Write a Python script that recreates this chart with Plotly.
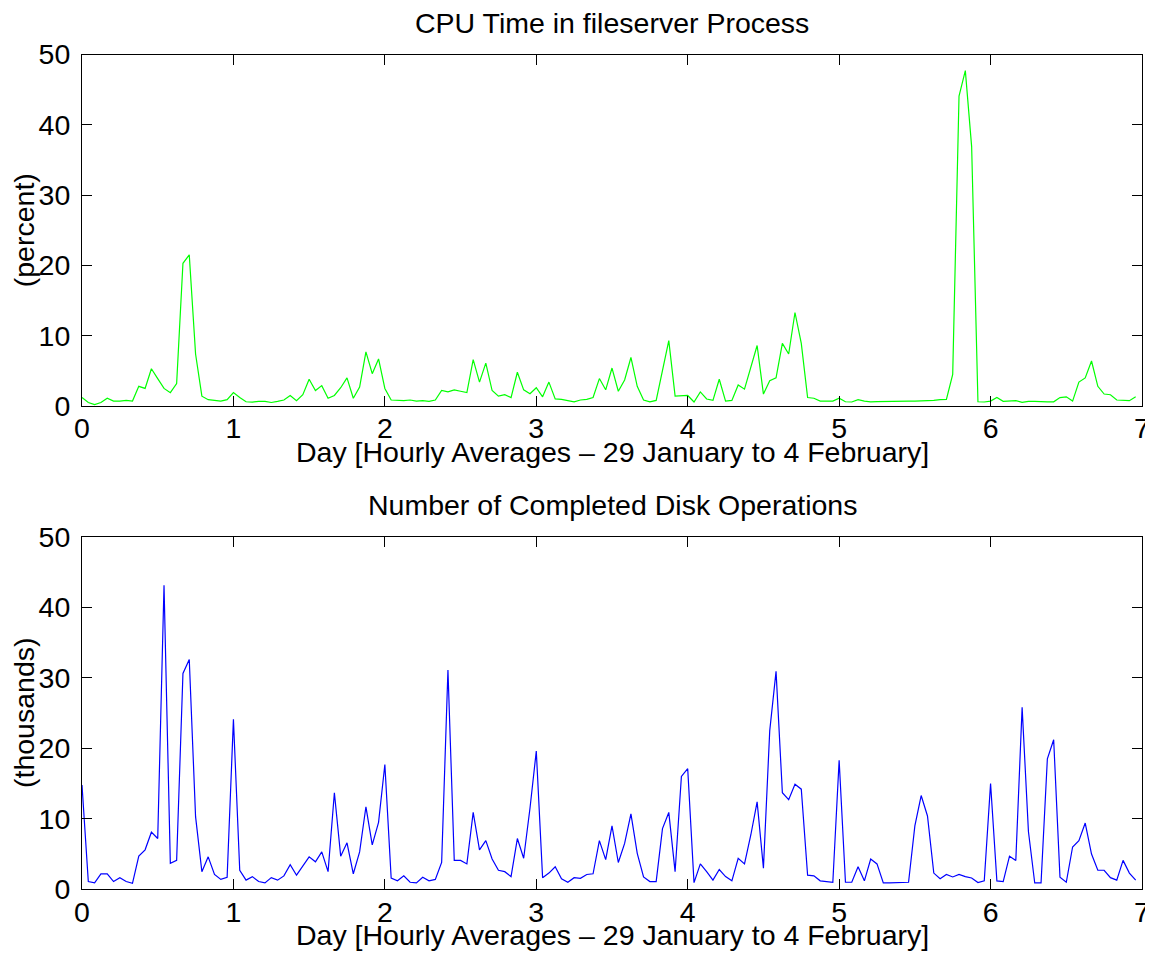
import plotly.graph_objects as go

hours = list(range(168))
days = [h / 24 for h in hours]

cpu_percent = [
    1.2, 0.5, 0.2, 0.5, 1.1, 0.7, 0.7, 0.8, 0.7, 2.8, 2.5, 5.3, 3.9, 2.5, 1.9, 3.2,
    20.3, 21.5, 7.4, 1.4, 0.9, 0.85, 0.7, 0.9, 1.9, 1.2, 0.6, 0.55, 0.66, 0.66, 0.5, 0.66,
    0.85, 1.5, 0.76, 1.6, 3.8, 2.2, 2.9, 1.1, 1.5, 2.6, 4.0, 1.1, 2.7, 7.7, 4.6, 6.7,
    2.5, 0.85, 0.8, 0.76, 0.85, 0.7, 0.76, 0.66, 0.85, 2.2, 2.0, 2.3, 2.1, 1.9, 6.6, 3.4,
    6.1, 2.2, 1.4, 1.6, 1.2, 4.8, 2.3, 1.75, 2.6, 1.3, 3.4, 1.0, 0.95, 0.76, 0.6, 0.85,
    0.95, 1.2, 3.9, 2.3, 5.4, 2.1, 3.7, 6.9, 2.8, 0.85, 0.6, 0.8, 5.1, 9.3, 1.4, 1.5,
    1.5, 0.57, 2.0, 1.0, 0.8, 3.8, 0.7, 0.8, 3.0, 2.4, 5.6, 8.6, 1.7, 3.6, 4.0, 8.9,
    7.4, 13.3, 8.9, 1.2, 1.1, 0.7, 0.7, 0.7, 1.1, 0.6, 0.57, 0.9, 0.7, 0.6, 0.62, 0.65,
    0.65, 0.65, 0.65, 0.7, 0.68, 0.7, 0.72, 0.8, 0.9, 0.95, 4.5, 44.1, 47.7, 36.9, 0.6, 0.57,
    0.7, 1.2, 0.66, 0.66, 0.76, 0.52, 0.66, 0.66, 0.6, 0.6, 0.6, 1.2, 1.3, 0.7, 3.4, 4.0,
    6.4, 2.8, 1.7, 1.6, 0.85, 0.85, 0.76, 1.3, 0.9,
]

disk_ops_thousands = [
    14.8, 1.1, 0.9, 2.2, 2.2, 1.1, 1.65, 1.1, 0.85, 4.7, 5.6, 8.1, 7.2, 43.1, 3.7, 4.1,
    30.6, 32.6, 10.3, 2.5, 4.6, 2.1, 1.4, 1.7, 24.1, 2.7, 1.3, 1.8, 1.1, 0.9, 1.65, 1.3,
    1.9, 3.5, 2.0, 3.3, 4.6, 3.9, 5.3, 2.5, 13.7, 4.7, 6.6, 2.2, 5.3, 11.7, 6.3, 9.5,
    17.7, 1.6, 1.2, 1.9, 1.0, 0.9, 1.7, 1.2, 1.4, 3.8, 31.1, 4.1, 4.1, 3.6, 10.9, 5.6,
    6.9, 4.3, 2.7, 2.5, 1.8, 7.2, 4.4, 11.5, 19.6, 1.65, 2.3, 3.2, 1.5, 1.0, 1.65, 1.55,
    2.1, 2.2, 6.9, 4.2, 9.0, 3.8, 6.5, 10.7, 5.1, 1.75, 1.1, 1.1, 8.6, 10.9, 2.5, 16.0,
    17.1, 0.95, 3.6, 2.5, 1.3, 2.8, 1.8, 1.2, 4.4, 3.6, 7.7, 12.4, 3.0, 22.5, 30.9, 13.7,
    12.7, 14.9, 14.2, 2.0, 1.9, 1.2, 1.1, 1.0, 18.3, 1.0, 1.0, 3.2, 1.2, 4.3, 3.6, 0.9,
    0.9, 0.9, 1.0, 1.0, 9.0, 13.3, 10.4, 2.3, 1.5, 2.1, 1.75, 2.1, 1.8, 1.6, 0.95, 1.2,
    15.0, 1.2, 1.1, 4.7, 4.1, 25.8, 8.2, 0.9, 0.9, 18.5, 21.2, 1.7, 1.0, 6.0, 6.9, 9.4,
    5.0, 2.7, 2.7, 1.65, 1.3, 4.1, 2.3, 1.3,
]

x_ticks = [0, 1, 2, 3, 4, 5, 6, 7]
y_ticks = [0, 10, 20, 30, 40, 50]

titles = ["CPU Time in fileserver Process", "Number of Completed Disk Operations"]
y_titles = ["(percent)", "(thousands)"]
x_title = "Day [Hourly Averages \u2013 29 January to 4 February]"

# The page body adds an 8 px margin, so the figure is drawn 8 px smaller
# and every target position is shifted by that offset.
PAD = 8
W, H = 1153 - PAD, 963 - PAD
FONT = "Liberation Sans, Arial, Helvetica, sans-serif"
FS = 28.5


def px_x(p):
    return (p - PAD) / W


def px_y(p):
    return 1 - (p - PAD) / H


fig = go.Figure()
fig.add_trace(go.Scatter(x=days, y=cpu_percent, mode="lines",
                         line=dict(color="#00ff00", width=1.2),
                         xaxis="x", yaxis="y", showlegend=False))
fig.add_trace(go.Scatter(x=days, y=disk_ops_thousands, mode="lines",
                         line=dict(color="#0000ff", width=1.2),
                         xaxis="x2", yaxis="y2", showlegend=False))

x_dom = [px_x(82), px_x(1142)]
panels = [(54.5, 406.0), (536.7, 889.3)]


def xax(anchor):
    return dict(domain=x_dom, range=[0, 7], tickvals=x_ticks, ticks="inside",
                ticklen=10, tickwidth=1, tickcolor="black", showline=True,
                linecolor="black", linewidth=1, mirror="ticks", showgrid=False,
                zeroline=False, anchor=anchor, automargin=False,
                ticklabelstandoff=-3,
                tickfont=dict(family=FONT, size=FS, color="black"))


def yax(anchor, dom):
    return dict(domain=dom, range=[0, 50], tickvals=y_ticks, ticks="inside",
                ticklen=10, tickwidth=1, tickcolor="black", showline=True,
                linecolor="black", linewidth=1, mirror="ticks", showgrid=False,
                zeroline=False, anchor=anchor, automargin=False,
                ticklabelstandoff=5,
                tickfont=dict(family=FONT, size=FS, color="black"))


annotations = []
doms = []
for i, (top_px, bot_px) in enumerate(panels):
    dom = [px_y(bot_px), px_y(top_px)]
    doms.append(dom)
    cx = (x_dom[0] + x_dom[1]) / 2
    annotations.append(dict(text=titles[i], x=cx, xref="paper",
                            y=px_y(top_px - 32), yref="paper", showarrow=False,
                            xanchor="center", yanchor="middle",
                            font=dict(family=FONT, size=FS, color="black")))
    annotations.append(dict(text=x_title, x=cx, xref="paper",
                            y=px_y(bot_px + 46), yref="paper", showarrow=False,
                            xanchor="center", yanchor="middle",
                            font=dict(family=FONT, size=FS, color="black")))
    annotations.append(dict(text=y_titles[i], x=px_x(24), xref="paper",
                            y=(dom[0] + dom[1]) / 2, yref="paper", showarrow=False,
                            textangle=-90, xanchor="center", yanchor="middle",
                            font=dict(family=FONT, size=FS, color="black")))

fig.update_layout(
    width=W, height=H, margin=dict(l=0, r=0, t=0, b=0, autoexpand=False),
    paper_bgcolor="white", plot_bgcolor="white",
    xaxis=xax("y"), yaxis=yax("x", doms[0]),
    xaxis2=xax("y2"), yaxis2=yax("x2", doms[1]),
    annotations=annotations,
)

fig.write_html("out.html")
